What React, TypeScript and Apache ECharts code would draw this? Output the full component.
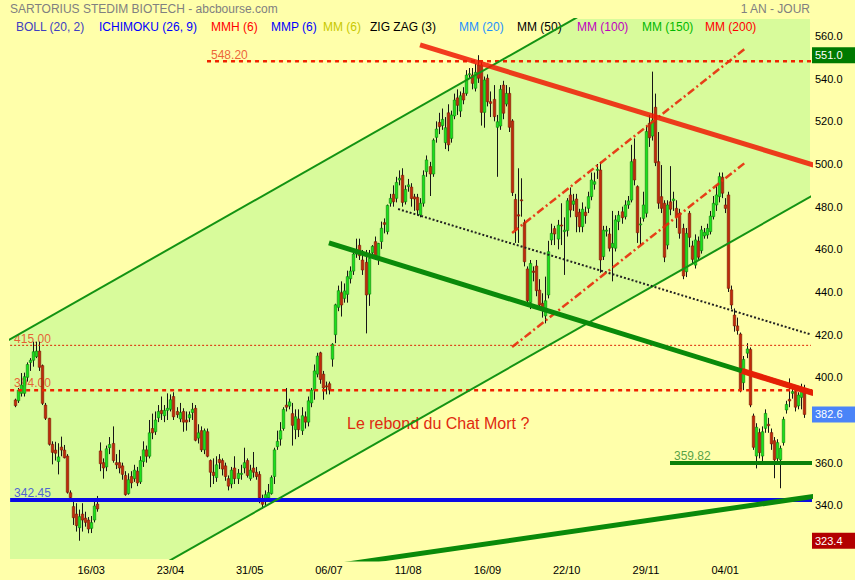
import React, { useEffect, useRef } from 'react';
import * as echarts from 'echarts';

// ---------- data ----------
const opens = [
  389.4,389,392.5,392.5,400,407,408,409.7,412.3,405.5,
  387,380.8,368.6,365.9,360.5,367.3,365.9,363.1,345.9,339.4,
  335.9,329.5,335.9,334,333.1,329.2,333.1,340.6,365.5,360,
  358,367,369,360,360,358.5,354,345.5,353.5,352.5,
  356,351,360.5,366,363,376,374.5,381,384.5,382,
  384.5,385,391,384,380.5,384,380,381,383.5,385.5,
  371.5,375,366,374.5,361,355.5,353,361.5,361,358.5,
  352.5,350,357.5,352.5,354.5,357.5,361,352.5,357.5,355.5,
  354.5,342,343,343.5,345.5,353.5,367.5,371,376,387,
  386.5,383,375.5,380.5,375,381.5,379,388,394,401.5,
  411.5,401.5,396,397,408.5,420,432.8,439.7,437,438.9,
  446.2,449.8,457.8,461.9,455,453.9,439,458.4,463.6,456.6,
  463.6,472.5,468.3,481.6,485.8,483.9,492.5,494.7,482.3,489.4,
  489.2,484.6,484.4,476.1,481.6,496.4,498.8,495.3,512.5,519.5,
  518,510,524,512,522.5,531,524.8,533.1,533.1,542,
  541.7,535.5,546.4,546.4,524.2,540.2,529.2,530.3,517.2,517.8,
  537,528.1,533.1,520.2,483.4,476.2,483.2,472.5,450.8,435.1,
  449.8,452.2,440.9,434.7,428.8,438.6,464.4,469.7,464.8,471.4,
  468.3,468.8,485.5,481.1,483.6,477.4,470.6,477.4,479.2,484.7,
  490.5,497,497.2,456.6,468.5,467.2,460.9,460.5,473,477.6,
  475.3,480.8,483.1,502.2,489.4,471.7,474.5,476.9,519.1,513.1,
  526.6,501.1,484.7,481.6,462,482.3,482.8,479.2,476.9,469.8,
  449.5,476.9,461.6,452.6,463.9,459.4,466.3,466.7,468.3,475.3,
  480.8,484.7,493.8,480.8,485.5,441,429.2,424.1,420.3,397.5,
  411.3,413.1,381.9,363.1,374.1,363.1,376.1,378,374.1,370.3,
  362,361.3,369.4,384.7,389.7,392.5,393.3,386.6,390.6,394.8,
];
const closes = [
  386.7,394,396.4,400.3,406,408,412,412.3,404.7,387.8,
  380.8,368.6,364.8,364.4,362.7,365.9,362.3,346.1,343.6,334.2,
  330.5,334.7,333.1,332,328.9,331.9,339.7,338.3,359.5,357.5,
  366.5,368.5,361,359,357.5,354.5,345,352,350.5,356.5,
  350.5,361,366,363,374,374,380,384,383,384.5,
  385.5,389.5,381.5,382.5,383.5,379,379,382.5,385,370.5,
  374,366,375,363,355.5,354,359,360,357,353.5,
  349,356.5,352.5,355,355,360,354,356.5,355.5,353.5,
  343.5,340.5,345,346,353,366,370,375,385,386,
  388.5,377.5,381.5,375.5,382,379,389,394,403,410,
  399,395,395.5,394,415.5,434,440.6,433.9,440.5,447.2,
  449.8,457.8,459.7,457,450.3,438.6,455.8,461.4,457,462.8,
  469.9,471.7,480.6,483.9,482.3,491.4,493.3,482,488.1,490.2,
  483.8,483.6,478.4,481.6,494.7,501.9,495.3,511.2,516.4,517.5,
  520.9,517,509,523,530,527.5,532,530,541.7,542.3,
  537.8,543,540.2,524.2,539.4,529.2,528.4,522.2,519.8,535,
  523.8,533.1,517.2,486.6,469.1,475.6,482.8,454.2,435.9,453.4,
  449.2,440.6,433.9,432.3,435.9,458.9,467.5,467.2,471.4,471,
  469,482.8,478.4,482.7,475.3,470.6,478.8,475.8,484.7,492.5,
  491.7,497.5,455,469,469,460.5,462.8,473.8,476,474.8,
  480.8,482.7,501.1,492.5,467.8,471.9,480.8,515.2,512.3,520.6,
  500.6,481.6,479.2,456.3,480.8,478.8,483.6,475.3,467.5,447.5,
  467.5,465.6,455.3,464.4,456.3,469.1,468,469.8,475.6,481.6,
  485.5,494.1,486.3,479.2,441.7,433.9,424.1,421.9,394.4,408.4,
  413.3,387,367.2,376.6,364.7,374.5,383.1,377.3,368.8,361.3,
  369.4,366.7,380.3,387.3,388.9,393.3,386,391.7,394.4,382.6,
];
const lows = [
  386,388,391,391,398,403,405,409,403,387,
  380,368,359.2,361,354.5,363,362,345.5,343,330.8,
  327.7,323.4,327.7,330,326.9,327,332,337,356,352.5,
  356,364,360,357,355,352,344.5,345,348,351,
  349,350,358,360,362,371,373,379,380,379,
  380,384,380,381,379,374.5,375,379,380,370,
  369,365,364,362.5,348.5,350,351,357,354,351.5,
  347,348,350,350,352,355,353,351.5,353,352,
  341,338.5,340,342,345,350,366,368,375,384,
  385,368,371,372,373,376,377,386,389.5,400,
  397,389.5,392,392,405,416,431,428.5,435,435,
  444,448,456,455,448,420.6,433.5,457,455,452.7,
  460.2,467.5,467,480,480,482,490,480,481,487,
  480,478,476,475,480,494,485,494,510,514,
  516,507,506,510,521,523,522,528,532,540,
  535,534,538,518,517,527,522,520,494,516,
  521,527,515,485,463,463,475.3,452,433,432,
  445,438,432,428,425.3,437,462,462,460,462,
  448,466,475,478,468,468,468,472,477,483,
  488,493,449,455,466,459,445,459,469,472,
  474,479,482,490,463,462,473,475,508,511,
  499,479,477,454,460,476,478,470,465,446,
  447,461,453,451,455,458,465,465,467,474,
  478,482,484,477,440,432,421.4,420,393,394,
  409,386,366,357.3,362,359,374,374,366,352.7,
  359,348,368,383,386,390,384,385,385,381,
];
const highs = [
  390,395,402,402.2,407,409,416.7,416.7,416.7,406,
  388,381,370,369.8,369.1,372.2,368.3,364,347,342,
  341,338,341,337,334.5,335,342,344.4,369.5,362,
  368,372,377,364,366,360,356,355,356,359,
  358,363,370,368,380,383,384,387,391,387,
  392.5,392,393,386,388,385.5,384,384,388,387,
  378,377,376,376,361.5,362,363,364,362,360,
  354,358,363,357,359,367,362,359,365,358,
  356,345,347,350,354,367,375,379,386,395,
  390,388,385,385,386,384,391,395,406,411.5,
  412,403,398,398,416,434.5,443,445,444,450,
  452,459,465,465,459.7,459.7,459.7,462,466,463,
  473,474.5,481,486,490,494,497,498,490,493,
  491,486,486,484,497,504,501,512,520,524,
  526,522,528,525,533,535,534,536,544,545,
  545,547,551,548,541,542,534,537,523,537,
  539,537,536,521,486,498,493.3,474,452,455,
  452,455,446,439.4,447.2,464,472,471,473.8,481.6,
  475,484,489,486,486,479,482,480,487,496,
  496,500,501,471,471,470,478,476,478,480,
  483,485,509,512,490,475,487,518,523,543.3,
  533,515,499.5,483,483,499,487,483,479,472,
  470,478,464,467,466,471,470,472,478,485,
  490,496,496,484,487,443,432.3,428,421,410,
  416,414,383,378.5,376,377,385,381,376,372,
  371,368,381.5,389,399.5,395,395,393,397,396.5,
];

const tickIndex = [25, 51, 77, 103, 129, 155, 181, 207, 233];
const tickLabels = ['16/03', '23/04', '31/05', '06/07', '11/08', '16/09', '22/10', '29/11', '04/01'];
// 380.0 is hidden behind the 382.6 price tag in the reference
const yTicks = [340, 360, 400, 420, 440, 460, 480, 500, 520, 540, 560];

// trend lines: [index, price] end points
const upperChannel = [[-3, 416.7], [262, 631.7]];
const lowerChannel = [[-3, 270.5], [262, 485.5]];
const greenTrend = [[103, 463.0], [262, 392.6]];
const redTrendEnd = [[238.5, 403.0], [262, 392.6]];
const redTrend = [[132.9, 555.8], [262, 499.5]];
const blackDotted = [[125.7, 478.9], [262, 419.7]];
const dashDotLow = [[163.1, 414.2], [239.8, 500.9]];
const dashDotHigh = [[163.1, 467.7], [239.8, 554.4]];
const risingSupport = [[100, 310.6], [262, 344.2]];

// horizontal levels
const levelValues = [548.2, 415.0, 394.0, 342.45, 359.82];
const levelStarts = [63, -1.6, -1.6, -1.6, 214.9];
const levelTexts = ['548.20', '415.00', '394.00', '342.45', '359.82'];

// price tags on the right
const tagValues = [551.0, 382.6, 323.4];
const tagColors = ['#007a00', '#4a84f8', '#b30000'];

const legendTexts = ['BOLL (20, 2)', 'ICHIMOKU (26, 9)', 'MMH (6)', 'MMP (6)', 'MM (6)', 'ZIG ZAG (3)', 'MM (20)', 'MM (50)', 'MM (100)', 'MM (150)', 'MM (200)'];
const legendColors = ['#4040c0', '#0000ff', '#ff0000', '#0000ff', '#c8c800', '#000000', '#1e90ff', '#000000', '#c000c0', '#00b800', '#ff0000'];
const legendX = [16, 99, 211, 271, 323, 370, 459, 517, 577, 642, 705];

const BG = '#ffffaa';
const CHANNEL_FILL = '#d8fb9b';
const FONT = '"Liberation Sans", Arial, Helvetica, sans-serif';

const X_MIN = -1.64;
const X_MAX = 260.83;
const Y_MIN = 314.84;
const Y_MAX = 567.97;

type Rect = { x: number; y: number; width: number; height: number };

function clipPolygon(pts: number[][], r: Rect): number[][] {
  const x0 = r.x, x1 = r.x + r.width, y0 = r.y, y1 = r.y + r.height;
  const planes = [
    { inside: (p: number[]) => p[0] >= x0, cut: (a: number[], b: number[]) => { const t = (x0 - a[0]) / (b[0] - a[0]); return [x0, a[1] + t * (b[1] - a[1])]; } },
    { inside: (p: number[]) => p[0] <= x1, cut: (a: number[], b: number[]) => { const t = (x1 - a[0]) / (b[0] - a[0]); return [x1, a[1] + t * (b[1] - a[1])]; } },
    { inside: (p: number[]) => p[1] >= y0, cut: (a: number[], b: number[]) => { const t = (y0 - a[1]) / (b[1] - a[1]); return [a[0] + t * (b[0] - a[0]), y0]; } },
    { inside: (p: number[]) => p[1] <= y1, cut: (a: number[], b: number[]) => { const t = (y1 - a[1]) / (b[1] - a[1]); return [a[0] + t * (b[0] - a[0]), y1]; } },
  ];
  let out = pts;
  for (const pl of planes) {
    const input = out;
    out = [];
    for (let k = 0; k < input.length; k++) {
      const cur = input[k];
      const prev = input[(k + input.length - 1) % input.length];
      const ci = pl.inside(cur), pi = pl.inside(prev);
      if (ci) {
        if (!pi) out.push(pl.cut(prev, cur));
        out.push(cur);
      } else if (pi) {
        out.push(pl.cut(prev, cur));
      }
    }
  }
  return out;
}

function lineSeries(pts: number[][], color: string, width: number, type: any, opacity = 1, z = 3) {
  return {
    type: 'line',
    data: pts,
    showSymbol: false,
    symbol: 'none',
    silent: true,
    clip: true,
    z,
    lineStyle: { color, width, type, opacity, cap: 'butt' },
  };
}

function buildOption() {
  const candleData = opens.map((o, i) => [i, o, closes[i], lows[i], highs[i]]);

  const levelColors = ['#ee2200', '#dd2200', '#ee2200', '#0a0ae6', '#0a800a'];
  const levelWidths = [2.5, 1, 2.5, 4, 4];
  const levelTypes: any[] = [[4, 4], [2, 2], [4, 4], 'solid', 'solid'];
  const labelColors = ['#e83a18', '#e83a18', '#e83a18', '#2a3ae0', '#2a8a2a'];
  const labelOffsets = [[0, -6], [0, -6], [0, -7], [0, -7], [0, -7]];

  const levelSeries = levelValues.map((v, k) =>
    lineSeries([[levelStarts[k], v], [262, v]], levelColors[k], levelWidths[k], levelTypes[k], 1, 3)
  );

  // invisible carrier series for the price tags on the right edge
  const tagSeries = {
    type: 'line',
    data: [[X_MIN, tagValues[1]]],
    showSymbol: false,
    symbol: 'none',
    silent: true,
    z: 6,
    lineStyle: { width: 0, color: 'rgba(0,0,0,0)' },
    markLine: {
      silent: true,
      symbol: ['none', 'none'],
      lineStyle: { width: 0, color: 'rgba(0,0,0,0)', type: 'solid' },
      data: tagValues.map((tv, j) => ({
        yAxis: tv,
        label: {
          show: true,
          position: 'end',
          distance: 2,
          formatter: tv.toFixed(1),
          color: '#ffffff',
          backgroundColor: tagColors[j],
          padding: [2, 15, 2, 3],
          fontSize: 11,
          lineHeight: 12,
          fontFamily: FONT,
        },
      })),
    },
  };

  const labelSeries = {
    type: 'scatter',
    z: 1,
    silent: true,
    symbolSize: 0,
    data: levelValues.map((v, k) => ({
      value: [levelStarts[k], v],
      label: {
        show: true,
        position: 'right',
        distance: 4,
        offset: labelOffsets[k],
        formatter: levelTexts[k],
        color: labelColors[k],
        fontSize: 12,
        fontFamily: FONT,
      },
    })),
  };

  const backgroundSeries = {
    type: 'custom',
    z: 0,
    silent: true,
    data: [[0, 400]],
    renderItem: (params: any, api: any) => {
      const cs = params.coordSys;
      const a1 = api.coord(upperChannel[0]);
      const a2 = api.coord(upperChannel[1]);
      const b1 = api.coord(lowerChannel[0]);
      const b2 = api.coord(lowerChannel[1]);
      const poly = clipPolygon([a1, a2, b2, b1], { x: cs.x, y: cs.y, width: cs.width, height: cs.height });
      return { type: 'polygon', shape: { points: poly }, style: { fill: CHANNEL_FILL } };
    },
  };

  const candleSeries = {
    type: 'custom',
    z: 2,
    silent: true,
    data: candleData,
    encode: { x: 0, y: [1, 2, 3, 4] },
    renderItem: (params: any, api: any) => {
      const i = api.value(0), o = api.value(1), c = api.value(2), l = api.value(3), h = api.value(4);
      const pO = api.coord([i, o]);
      const pC = api.coord([i, c]);
      const pL = api.coord([i, l]);
      const pH = api.coord([i, h]);
      const x = Math.round(pO[0]) + 0.5;
      const up = c >= o;
      const top = Math.min(pO[1], pC[1]);
      const bot = Math.max(pO[1], pC[1]);
      return {
        type: 'group',
        children: [
          { type: 'line', shape: { x1: x, y1: pH[1], x2: x, y2: pL[1] }, style: { stroke: '#151515', lineWidth: 1 } },
          {
            type: 'rect',
            shape: { x: x - 1.25, y: top, width: 2.5, height: Math.max(bot - top, 1) },
            style: { fill: up ? '#1be01b' : '#c02a0a', stroke: up ? '#0a7d0a' : '#781804', lineWidth: 0.6 },
          },
        ],
      };
    },
  };

  const graphicElements: any[] = [
    { type: 'text', x: 10, y: 9, z: 1, style: { text: 'SARTORIUS STEDIM BIOTECH - abcbourse.com', fill: '#808080', font: `12px ${FONT}`, textVerticalAlign: 'middle', verticalAlign: 'middle' } },
    { type: 'text', x: 810, y: 9, z: 1, style: { text: '1 AN - JOUR', fill: '#808080', font: `12px ${FONT}`, textAlign: 'right', align: 'right', textVerticalAlign: 'middle', verticalAlign: 'middle' } },
    { type: 'text', x: 347, y: 423, z: 1, style: { text: 'Le rebond du Chat Mort ?', fill: '#e02a10', font: `16px ${FONT}`, textVerticalAlign: 'middle', verticalAlign: 'middle' } },
    ...legendTexts.map((t, k) => ({
      type: 'text', x: legendX[k], y: 27, z: 1,
      style: { text: t, fill: legendColors[k], font: `12px ${FONT}`, textVerticalAlign: 'middle', verticalAlign: 'middle' },
    })),
  ];

  return {
    animation: false,
    backgroundColor: BG,
    grid: { left: 10, top: 19, width: 800, height: 540, containLabel: false },
    xAxis: {
      type: 'value',
      min: X_MIN,
      max: X_MAX,
      axisLine: { show: false },
      axisTick: { show: false },
      splitLine: { show: false },
      axisLabel: {
        customValues: tickIndex,
        formatter: (v: number) => {
          const k = tickIndex.indexOf(Math.round(v));
          return k >= 0 ? tickLabels[k] : '';
        },
        color: '#000',
        fontSize: 11,
        fontFamily: FONT,
        margin: 5,
      },
    },
    yAxis: {
      type: 'value',
      position: 'right',
      min: Y_MIN,
      max: Y_MAX,
      axisLine: { show: false },
      axisTick: { show: false },
      splitLine: { show: false },
      axisLabel: {
        customValues: yTicks,
        formatter: (v: number) => v.toFixed(1),
        color: '#000',
        fontSize: 11,
        fontFamily: FONT,
        margin: 5,
      },
    },
    graphic: { elements: graphicElements },
    series: [
      backgroundSeries,
      labelSeries,
      candleSeries,
      ...levelSeries,
      lineSeries(upperChannel, '#139313', 2, 'solid', 1, 3),
      lineSeries(lowerChannel, '#139313', 2, 'solid', 1, 3),
      lineSeries(blackDotted, '#222222', 2, [2, 2], 1, 3),
      lineSeries(dashDotLow, '#e82a0a', 2.5, [8, 3, 2, 3], 0.9, 3),
      lineSeries(dashDotHigh, '#e82a0a', 2.5, [8, 3, 2, 3], 0.9, 3),
      lineSeries(risingSupport, '#0a8a0a', 5, 'solid', 1, 3),
      lineSeries(greenTrend, '#0a8a0a', 5, 'solid', 1, 4),
      lineSeries(redTrend, '#f01a05', 5, 'solid', 0.85, 4),
      lineSeries(redTrendEnd, '#f01a05', 6, 'solid', 0.95, 5),
      tagSeries,
    ],
  };
}

export default function App() {
  const ref = useRef<HTMLDivElement>(null);
  useEffect(() => {
    if (!ref.current) return;
    const chart = echarts.init(ref.current, null, { renderer: 'svg' });
    chart.setOption(buildOption() as any);
    return () => chart.dispose();
  }, []);
  return (
    <div
      ref={ref}
      style={{ position: 'fixed', left: 0, top: 0, width: 855, height: 580, background: BG }}
    />
  );
}
